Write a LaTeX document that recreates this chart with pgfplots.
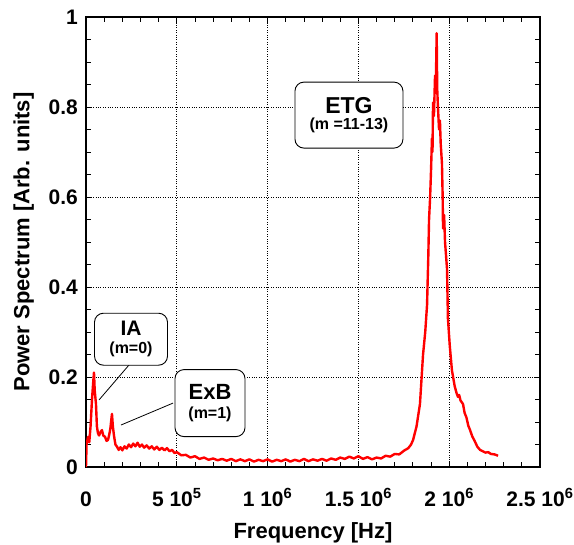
\documentclass[border=0pt]{standalone}
\usepackage{pgfplots}
\pgfplotsset{compat=1.18}
\usepackage{fontspec}
\setmainfont{Liberation Sans}
\begin{document}
\begin{tikzpicture}[font=\bfseries]
\begin{axis}[
  name=ax,
  scale only axis,
  width=454pt, height=450pt,
  xmin=0, xmax=2.5e6, ymin=0, ymax=1,
  xtick={0,5e5,1e6,1.5e6,2e6,2.5e6},
  xticklabels={0,5 10\textsuperscript{5},1 10\textsuperscript{6},1.5 10\textsuperscript{6},2 10\textsuperscript{6},2.5 10\textsuperscript{6}},
  ytick={0,0.2,0.4,0.6,0.8,1},
  yticklabels={0,0.2,0.4,0.6,0.8,1},
  minor x tick num=4, minor y tick num=3,
  scaled x ticks=false,
  tick align=inside, tick pos=both,
  major tick length=6pt, minor tick length=5pt,
  every tick/.style={black, line width=0.8pt},
  axis line style={line width=1.5pt},
  grid=major,
  major grid style={black, dotted, line width=0.9pt},
  ticklabel style={font=\fontsize{21}{23}\selectfont\bfseries, inner sep=0pt},
  xticklabel style={anchor=base, yshift=-39pt},
  yticklabel style={anchor=east, xshift=-8pt},
  xlabel={Frequency [Hz]},
  ylabel={Power Spectrum [Arb. units]},
  label style={font=\fontsize{22}{24}\selectfont\bfseries},
  xlabel style={at={(axis description cs:0.5,-0.147)}, anchor=center},
  ylabel style={at={(axis description cs:-0.137,0.5)}, anchor=center},
  clip=true,
]
\addplot[red, line width=2.4pt, line join=round] coordinates {
(0,0) (3000,0.05) (8000,0.06) (11000,0.067) (18000,0.055) (25000,0.09)
(33000,0.15) (40000,0.19) (44000,0.21) (48000,0.17) (55000,0.14) (60000,0.09)
(66000,0.075) (72000,0.07) (80000,0.078) (88000,0.082) (95000,0.07) (105000,0.067)
(113000,0.058) (121000,0.06) (128000,0.072) (134000,0.085) (138000,0.1) (143000,0.118)
(148000,0.09) (154000,0.07) (162000,0.05)
(171000,0.045) (180000,0.038) (190000,0.044) (200000,0.037) (212000,0.046) (224000,0.041)
(236000,0.05) (248000,0.044) (260000,0.052) (272000,0.046) (284000,0.054) (296000,0.045)
(308000,0.05) (320000,0.043) (334000,0.048) (348000,0.041) (362000,0.046) (376000,0.039)
(390000,0.045) (404000,0.038) (418000,0.043) (432000,0.037) (446000,0.042) (460000,0.035)
(474000,0.038) (488000,0.031)
(500000,0.033) (525000,0.026) (550000,0.027) (575000,0.021) (600000,0.024) (625000,0.018)
(650000,0.021) (675000,0.016) (700000,0.019) (725000,0.015) (750000,0.018) (775000,0.014)
(800000,0.018) (825000,0.013) (850000,0.017) (875000,0.013) (900000,0.017) (925000,0.012)
(950000,0.016) (975000,0.013) (1000000,0.017) (1025000,0.012) (1050000,0.016) (1075000,0.013)
(1100000,0.017) (1125000,0.012) (1150000,0.016) (1175000,0.013) (1200000,0.018) (1225000,0.013)
(1250000,0.017) (1275000,0.014) (1300000,0.018) (1325000,0.014) (1350000,0.019) (1375000,0.016)
(1400000,0.021) (1425000,0.018) (1450000,0.023) (1475000,0.019) (1500000,0.024) (1525000,0.018)
(1550000,0.022) (1575000,0.017) (1600000,0.021) (1625000,0.019) (1650000,0.025) (1675000,0.023)
(1700000,0.029) (1725000,0.028) (1750000,0.036) (1775000,0.042) (1790000,0.05)
(1801000,0.06) (1820000,0.09) (1839000,0.14) (1856000,0.25) (1868000,0.3) (1878000,0.36)
(1885000,0.47) (1889000,0.55) (1895000,0.6) (1900000,0.66) (1905000,0.73) (1908000,0.70)
(1911000,0.81) (1916000,0.78) (1922000,0.87) (1926000,0.84) (1931000,0.964) (1934000,0.84)
(1938000,0.80) (1944000,0.75) (1949000,0.77) (1953000,0.72) (1960000,0.675) (1964000,0.60)
(1966000,0.53) (1972000,0.56) (1977000,0.50) (1988000,0.44) (1993000,0.33) (2003000,0.27)
(2015000,0.215) (2030000,0.18) (2040000,0.165) (2048000,0.156) (2055000,0.16) (2062000,0.148)
(2076000,0.14) (2085000,0.12) (2095000,0.11) (2105000,0.092) (2114000,0.083) (2127000,0.068)
(2140000,0.058) (2155000,0.045) (2170000,0.038) (2185000,0.035) (2200000,0.032) (2215000,0.033)
(2230000,0.029) (2250000,0.028) (2269000,0.025)
};
\draw[black, line width=0.8pt] (axis cs:236800,0.2267) -- (axis cs:71600,0.149);
\draw[black, line width=0.8pt] (axis cs:479000,0.142) -- (axis cs:192700,0.0933);
\node[draw=black, fill=white, rounded corners=9pt, line width=0.9pt, minimum width=73pt, minimum height=52pt, align=center, inner sep=1pt]
  at (axis cs:247800,0.284) {{\fontsize{21}{22}\selectfont IA}\\[6pt]{\fontsize{16}{17}\selectfont (m=0)}};
\node[draw=black, fill=white, rounded corners=9pt, line width=0.9pt, minimum width=70pt, minimum height=67pt, align=center, inner sep=2pt]
  at (axis cs:682800,0.142) {{\fontsize{22}{24}\selectfont ExB}\\[7pt]{\fontsize{16}{18}\selectfont (m=1)}};
\node[draw=black, fill=white, rounded corners=9pt, line width=0.9pt, minimum width=108pt, minimum height=66pt, align=center, inner sep=2pt]
  at (axis cs:1448000,0.782) {{\fontsize{23}{25}\selectfont ETG}\\[4pt]{\fontsize{16}{18}\selectfont (m =11-13)}};
\end{axis}
\pgfresetboundingbox
\path[use as bounding box] ([shift={(-86pt,-77pt)}]ax.south west) rectangle ([shift={(34pt,17pt)}]ax.north east);
\end{tikzpicture}
\end{document}
